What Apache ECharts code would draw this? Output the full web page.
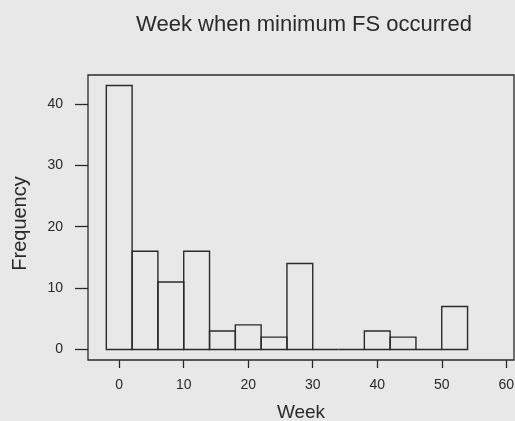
<!DOCTYPE html>
<html>
<head>
<meta charset="utf-8">
<script src="https://cdn.jsdelivr.net/npm/echarts@6/dist/echarts.min.js"></script>
<style>
html,body{margin:0;padding:0;background:#e8e8e8;}
#chart{width:515px;height:421px;}
</style>
</head>
<body>
<div id="chart"></div>
<script>
// Histogram bins (weeks): start of each bin, width 4
const binStarts = [-2, 2, 6, 10, 14, 18, 22, 26, 30, 34, 38, 42, 46, 50];
const binWidth = 4;
const counts = [43, 16, 11, 16, 3, 4, 2, 14, 0, 0, 3, 2, 0, 7];
const xTicks = [0, 10, 20, 30, 40, 50, 60];
const yTicks = [0, 10, 20, 30, 40];

const FONT = '"Liberation Sans", Arial, Helvetica, sans-serif';
const INK = '#2a2a2a';

const data = binStarts.map((s, i) => [s, s + binWidth, counts[i]]);

const chart = echarts.init(document.getElementById('chart'), null, {renderer: 'canvas'});
chart.setOption({
  backgroundColor: '#e8e8e8',
  animation: false,
  title: {
    text: 'Week when minimum FS occurred',
    left: 299, top: 9, textAlign: 'center',
    textStyle: {fontFamily: FONT, fontSize: 22, fontWeight: 'normal', color: INK}
  },
  grid: {left: 88, right: 1, top: 75, bottom: 61, outerBoundsMode: 'none', containLabel: false,
         show: true, borderColor: INK, borderWidth: 1.3, backgroundColor: 'transparent'},
  xAxis: {
    type: 'value', min: -4.84, max: 61.2,
    name: 'Week', nameLocation: 'middle', nameGap: 43,
    nameTextStyle: {fontFamily: FONT, fontSize: 19, color: INK},
    axisLine: {show: false, onZero: false},
    splitLine: {show: false},
    axisTick: {show: true, inside: false, length: 8, customValues: xTicks, lineStyle: {color: INK, width: 1.3}},
    axisLabel: {show: true, margin: 18, customValues: xTicks, fontFamily: FONT, fontSize: 14, color: INK}
  },
  yAxis: {
    type: 'value', min: -1.72, max: 44.72,
    name: 'Frequency', nameLocation: 'middle', nameGap: 58, nameRotate: 90,
    nameTextStyle: {fontFamily: FONT, fontSize: 20, color: INK, padding: [0, 12, 0, 0]},
    axisLine: {show: false, onZero: false},
    splitLine: {show: false},
    axisTick: {show: true, inside: false, length: 13, customValues: yTicks, lineStyle: {color: INK, width: 1.3}},
    axisLabel: {show: true, margin: 25, customValues: yTicks, fontFamily: FONT, fontSize: 14, color: INK}
  },
  series: [{
    type: 'custom',
    data: data,
    encode: {x: [0, 1], y: 2},
    renderItem: function (params, api) {
      const p0 = api.coord([api.value(0), 0]);
      const p1 = api.coord([api.value(1), api.value(2)]);
      return {
        type: 'rect',
        shape: {x: p0[0], y: p1[1], width: p1[0] - p0[0], height: p0[1] - p1[1]},
        style: {fill: 'rgba(0,0,0,0)', stroke: INK, lineWidth: 1.4}
      };
    }
  }]
});
</script>
</body>
</html>
